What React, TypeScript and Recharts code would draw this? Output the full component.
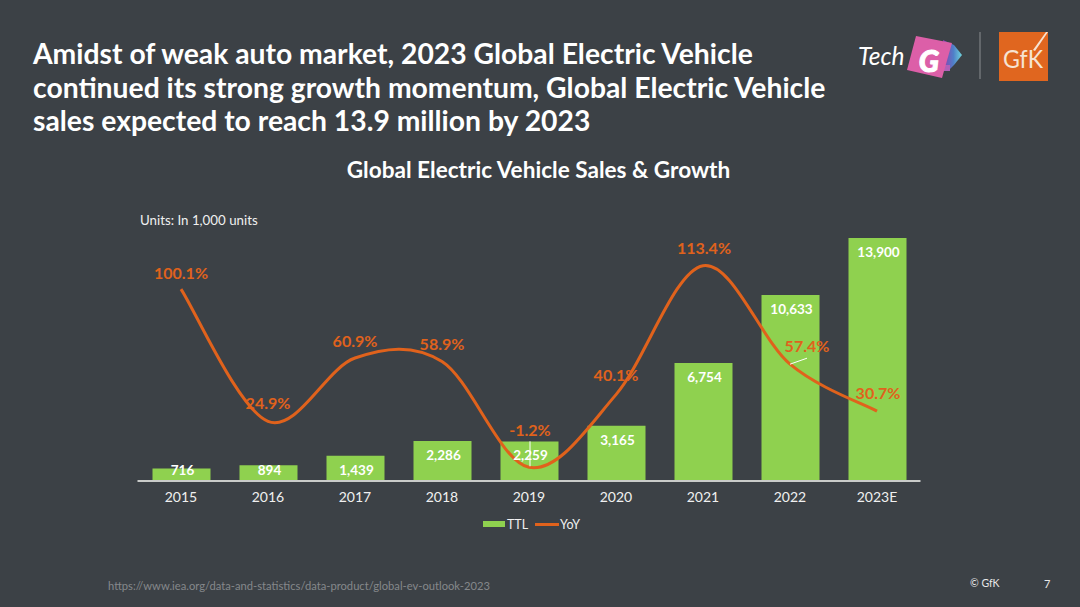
import React from 'react';
import { ComposedChart, Bar, Line, XAxis, YAxis, Legend, LabelList } from 'recharts';

const categories = ['2015', '2016', '2017', '2018', '2019', '2020', '2021', '2022', '2023E'];
const ttlValues = [716, 894, 1439, 2286, 2259, 3165, 6754, 10633, 13900];
const yoyValues = [100.1, 24.9, 60.9, 58.9, -1.2, 40.1, 113.4, 57.4, 30.7];

const titleLines = [
  'Amidst of weak auto market, 2023 Global Electric Vehicle',
  'continued its strong growth momentum, Global Electric Vehicle',
  'sales expected to reach 13.9 million by 2023',
];

const chartData = categories.map((name, i) => ({ name, ttl: ttlValues[i], yoy: yoyValues[i] }));

const FONT = 'Lato, sans-serif';
const BG = '#3c4146';
const GREEN = '#8fd14f';
const ORANGE = '#e0621c';

// hand placed labels, same as in the slide: [dx, dy] from the line point
const yoyLabelOffsets = [
  [0, -16], [0, -18], [0, -17], [0, -17], [1, -37], [0, -19], [1, -17], [17, -18], [1, -18],
];

// excel style smoothed line, recharts accepts a curve factory as type
const excelSmooth = (context: any) => {
  let pts: number[][] = [];
  return {
    areaStart() {},
    areaEnd() {},
    lineStart() {
      pts = [];
    },
    point(x: number, y: number) {
      pts.push([+x, +y]);
    },
    lineEnd() {
      pts.forEach((p, i) => {
        if (i === 0) {
          context.moveTo(p[0], p[1]);
          return;
        }
        const p0 = pts[i - 2] || pts[i - 1];
        const p1 = pts[i - 1];
        const p3 = pts[i + 1] || p;
        context.bezierCurveTo(
          p1[0] + (p[0] - p0[0]) / 6,
          p1[1] + (p[1] - p0[1]) / 6,
          p[0] - (p3[0] - p1[0]) / 6,
          p[1] - (p3[1] - p1[1]) / 6,
          p[0],
          p[1],
        );
      });
    },
  };
};

const renderTtlLabel = (props: any) => {
  const { x, y, width, value } = props;
  return (
    <text
      x={x + width / 2 + 1}
      y={Math.min(y + 14, 470)}
      dy="0.36em"
      textAnchor="middle"
      fill="#ffffff"
      fontFamily={FONT}
      fontWeight={700}
      fontSize={13.5}
    >
      {Number(value).toLocaleString('en-US')}
    </text>
  );
};

const renderYoyLabel = (props: any) => {
  const { x, y, value, index } = props;
  const [dx, dy] = yoyLabelOffsets[index];
  return (
    <g>
      {index === 4 && <line x1={x + 1} y1={y - 26} x2={x + 1} y2={y - 1} stroke="#ffffff" strokeWidth={1} />}
      {index === 7 && <line x1={x} y1={y} x2={x + 17} y2={y - 6} stroke="#ffffff" strokeWidth={1} />}
      <text
        x={x + dx}
        y={y + dy}
        dy="0.36em"
        textAnchor="middle"
        fill={ORANGE}
        fontFamily={FONT}
        fontWeight={700}
        fontSize={16}
      >
        {Number(value).toFixed(1)}%
      </text>
    </g>
  );
};

const renderLegend = () => (
  <div
    style={{
      display: 'flex',
      justifyContent: 'center',
      alignItems: 'center',
      height: 26,
      color: '#f0f0f0',
      fontFamily: FONT,
      fontSize: 12.5,
      paddingLeft: 5,
    }}
  >
    <span style={{ width: 22, height: 6, background: GREEN, marginRight: 2 }} />
    <span style={{ marginRight: 7 }}>TTL</span>
    <span style={{ width: 24, height: 3, background: ORANGE, marginRight: 1 }} />
    <span>YoY</span>
  </div>
);

const Logos = () => (
  <svg width={210} height={60} viewBox="0 0 210 60" style={{ position: 'absolute', left: 850, top: 27 }}>
    <defs>
      <linearGradient id="fan" x1="0" y1="0" x2="1" y2="0">
        <stop offset="0" stopColor="#8a3fb0" />
        <stop offset="0.55" stopColor="#4f7fc8" />
        <stop offset="1" stopColor="#6fd4dc" />
      </linearGradient>
    </defs>
    <text x={8} y={38} fill="#ffffff" fontFamily={FONT} fontStyle="italic" fontSize={24.5}>
      Tech
    </text>
    <polygon points="93,13 104,18 112,28 104,38 98,44 94,44" fill="url(#fan)" />
    <polygon points="92,38 100,38 100,44 92,44" fill="#b060b8" />
    <polygon points="66,9 102,16 92,51 57,43" fill="#dc5fa8" />
    <text
      x={79}
      y={45}
      textAnchor="middle"
      fill="#ffffff"
      fontFamily={FONT}
      fontWeight={900}
      fontStyle="italic"
      fontSize={30}
      stroke="#ffffff"
      strokeWidth={1}
    >
      G
    </text>
    <rect x={129.5} y={5} width={1} height={47} fill="#8a8d90" />
    <rect x={149} y={5} width={49} height={49} fill="#e0661f" />
    <text x={153} y={41} fill="#f6e3d2" fontFamily={FONT} fontSize={25} textLength={40} lengthAdjust="spacingAndGlyphs">
      GfK
    </text>
    <polygon points="183,23 196,5 198,5 185,24" fill="#f6e3d2" />
  </svg>
);

const App = () => {
  return (
    <div style={{ position: 'absolute', left: 0, top: 0, width: 1080, height: 607, background: BG, overflow: 'hidden' }}>
      <div
        style={{
          position: 'absolute',
          left: 33,
          top: 37,
          fontFamily: FONT,
          fontWeight: 700,
          fontSize: 28.3,
          lineHeight: '33.5px',
          color: '#ffffff',
          whiteSpace: 'nowrap',
        }}
      >
        {titleLines.map((t) => (
          <div key={t}>{t}</div>
        ))}
      </div>
      <Logos />
      <div
        style={{
          position: 'absolute',
          left: 0,
          width: 1077,
          top: 156,
          textAlign: 'center',
          fontFamily: FONT,
          fontWeight: 700,
          fontSize: 22.6,
          color: '#ffffff',
        }}
      >
        Global Electric Vehicle Sales &amp; Growth
      </div>
      <div style={{ position: 'absolute', left: 140, top: 212, fontFamily: FONT, fontSize: 13.3, color: '#f0f0f0' }}>
        Units: In 1,000 units
      </div>

      <div style={{ position: 'absolute', left: 0, top: 0 }}>
        <ComposedChart
          width={1080}
          height={607}
          data={chartData}
          margin={{ top: 201.3, right: 159.5, bottom: 70, left: 137.5 }}
        >
          <XAxis
            dataKey="name"
            axisLine={{ stroke: '#c9cbc9', strokeWidth: 2 }}
            tickLine={false}
            height={30}
            tick={{ fill: '#f0f0f0', fontSize: 14, fontFamily: FONT }}
            tickMargin={5}
            interval={0}
          />
          <YAxis yAxisId="ttl" hide domain={[0, 16000]} />
          <YAxis yAxisId="yoy" orientation="right" hide domain={[-9, 150]} />
          <Legend verticalAlign="bottom" height={26} content={renderLegend} />
          <Bar yAxisId="ttl" dataKey="ttl" name="TTL" fill={GREEN} barSize={58} isAnimationActive={false}>
            <LabelList dataKey="ttl" content={renderTtlLabel} />
          </Bar>
          <Line
            yAxisId="yoy"
            dataKey="yoy"
            name="YoY"
            type={excelSmooth as any}
            stroke={ORANGE}
            strokeWidth={3}
            dot={false}
            isAnimationActive={false}
          >
            <LabelList dataKey="yoy" content={renderYoyLabel} />
          </Line>
        </ComposedChart>
      </div>

      <div style={{ position: 'absolute', left: 108, top: 579, fontFamily: FONT, fontSize: 11.2, color: '#85888b' }}>
        https://www.iea.org/data-and-statistics/data-product/global-ev-outlook-2023
      </div>
      <div style={{ position: 'absolute', left: 970, top: 577, fontFamily: FONT, fontSize: 10.5, color: '#e8e8e8' }}>
        © GfK
      </div>
      <div style={{ position: 'absolute', left: 1044, top: 577, fontFamily: FONT, fontSize: 11, color: '#e8e8e8' }}>
        7
      </div>
    </div>
  );
};

export default App;
